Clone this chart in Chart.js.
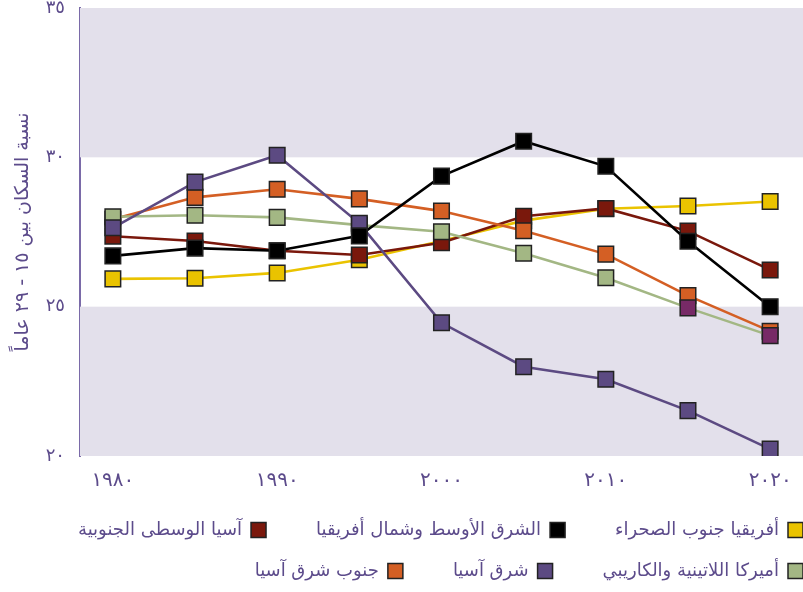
<!DOCTYPE html>
<html>
<head>
<meta charset="utf-8">
<script src="https://cdn.jsdelivr.net/npm/chart.js@4/dist/chart.umd.min.js"></script>
<style>
  html, body { margin: 0; padding: 0; background: #fff; }
  #wrap { width: 803px; height: 592px; }
</style>
</head>
<body>
<div id="wrap"><canvas id="myChart" width="803" height="592"></canvas></div>
<script>
// years on the x axis
var years = [1980, 1985, 1990, 1995, 2000, 2005, 2010, 2015, 2020];
var xTicks = [1980, 1990, 2000, 2010, 2020];
var xTickLabels = ['١٩٨٠', '١٩٩٠', '٢٠٠٠', '٢٠١٠', '٢٠٢٠'];
var yTickLabels = { 20: '٢٠', 25: '٢٥', 30: '٣٠', 35: '٣٥' };
var bands = [[20, 25], [30, 35]];

// share of population aged 15-29 (%)
var subSaharan = [25.93, 25.95, 26.13, 26.57, 27.2, 27.88, 28.28, 28.37, 28.52];
var mena = [26.7, 26.96, 26.87, 27.37, 29.37, 30.54, 29.7, 27.19, 25.0];
var centralSouthAsia = [27.36, 27.2, 26.87, 26.73, 27.14, 28.03, 28.29, 27.53, 26.23];
var latinAmerica = [28.01, 28.06, 27.99, 27.73, 27.51, 26.79, 25.97, 24.96, 24.03];
var eastAsia = [27.64, 29.17, 30.07, 27.79, 24.46, 22.99, 22.57, 21.52, 20.23];
var southeastAsia = [27.93, 28.66, 28.93, 28.61, 28.2, 27.54, 26.76, 25.37, 24.18];

var names = [
    'أفريقيا جنوب الصحراء',
    'الشرق الأوسط وشمال أفريقيا',
    'آسيا الوسطى الجنوبية',
    'أميركا اللاتينية والكاريبي',
    'شرق آسيا',
    'جنوب شرق آسيا'
];

var purple = '#5c4b8b';
var legendPad = 23;

function points(series) {
    return years.map(function(x, i) { return { x: x, y: series[i] }; });
}

function make_dataset(label, series, color, order, pointColors) {
    return {
        label: label,
        data: points(series),
        borderColor: color,
        backgroundColor: color,
        borderWidth: 2.6,
        pointStyle: 'rect',
        pointRadius: 11,
        pointHoverRadius: 11,
        pointBackgroundColor: pointColors || color,
        pointBorderColor: '#222',
        pointBorderWidth: 1.5,
        tension: 0,
        order: order
    };
}

// paints the shaded bands behind the lines
var bandPlugin = {
    id: 'bands',
    afterLayout: function(chart) {
        // push the legend flush to the right edge
        chart.legend.left += legendPad;
        chart.legend.right += legendPad;
    },
    beforeDatasetsDraw: function(chart) {
        var ctx = chart.ctx, area = chart.chartArea, y = chart.scales.y;
        ctx.save();
        ctx.fillStyle = '#e3e0eb';
        bands.forEach(function(b) {
            var top = y.getPixelForValue(b[1]);
            var bottom = y.getPixelForValue(b[0]);
            ctx.fillRect(area.left, top, area.right - area.left, bottom - top);
        });
        ctx.restore();
    }
};

var greenPoints = ['#a3b784', '#a3b784', '#a3b784', '#a3b784', '#a3b784', '#a3b784', '#a3b784', '#772a66', '#772a66'];

var ctx = document.getElementById('myChart').getContext('2d');
globalThis.chart = new Chart(ctx, {
    type: 'line',
    data: {
        datasets: [
            make_dataset(names[0], subSaharan, '#eac300', 5),
            make_dataset(names[1], mena, '#000000', 0),
            make_dataset(names[2], centralSouthAsia, '#7a180c', 4),
            make_dataset(names[3], latinAmerica, '#a3b784', 2, greenPoints),
            make_dataset(names[4], eastAsia, '#5c4a82', 1),
            make_dataset(names[5], southeastAsia, '#d45f24', 3)
        ]
    },
    plugins: [bandPlugin],
    options: {
        responsive: false,
        animation: false,
        layout: { autoPadding: false, padding: { top: 0, right: 0, left: 0, bottom: 2 } },
        plugins: {
            tooltip: { enabled: false },
            legend: {
                position: 'bottom',
                align: 'start',
                rtl: true,
                textDirection: 'rtl',
                labels: {
                    boxWidth: 15,
                    boxHeight: 15,
                    padding: legendPad,
                    color: purple,
                    font: { family: 'DejaVu Sans', size: 18 },
                    sort: function(a, b) { return a.datasetIndex - b.datasetIndex; },
                    generateLabels: function(chart) {
                        var items = Chart.defaults.plugins.legend.labels.generateLabels(chart);
                        items.forEach(function(it) {
                            // wider gap between items than between rows
                            it.text = it.text + '\u2003\u2002';
                            it.fillStyle = chart.data.datasets[it.datasetIndex].borderColor;
                            it.strokeStyle = '#222';
                            it.lineWidth = 1.5;
                        });
                        return items;
                    }
                }
            }
        },
        scales: {
            x: {
                type: 'linear',
                min: 1978,
                max: 2022,
                grid: { display: false },
                border: { display: false },
                afterBuildTicks: function(scale) {
                    scale.ticks = xTicks.map(function(v) { return { value: v }; });
                },
                afterFit: function(scale) {
                    scale.paddingLeft = 0;
                    scale.paddingRight = 0;
                },
                ticks: {
                    color: purple,
                    padding: 5,
                    font: { family: 'DejaVu Sans', size: 20 },
                    maxRotation: 0,
                    callback: function(v) { return xTickLabels[xTicks.indexOf(v)]; }
                }
            },
            y: {
                min: 20,
                max: 35,
                grid: { display: false },
                border: { display: true, color: '#7a6aa8', width: 2 },
                afterFit: function(scale) {
                    scale.width = 80;
                    scale.paddingTop = 8;
                    scale.paddingBottom = 0;
                },
                ticks: {
                    stepSize: 5,
                    color: purple,
                    padding: 7,
                    font: { family: 'DejaVu Sans', size: 18 },
                    callback: function(v) { return yTickLabels[v]; }
                },
                title: {
                    display: true,
                    text: 'نسبة السكان بين ١٥ - ٢٩ عاماً',
                    color: purple,
                    font: { family: 'DejaVu Sans', size: 19 },
                    padding: { top: 12, bottom: 0 }
                }
            }
        }
    }
});
</script>
</body>
</html>
